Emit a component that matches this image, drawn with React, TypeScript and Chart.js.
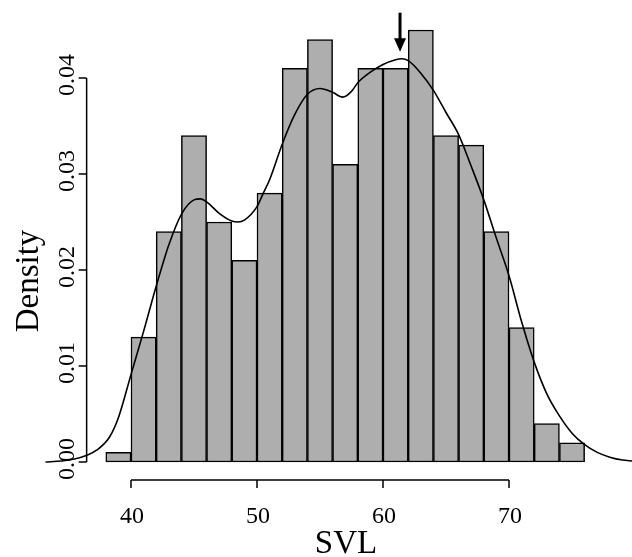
import React, { useEffect, useRef } from "react";
import { Chart, registerables } from "chart.js";

Chart.register(...registerables);

// Histogram bins (SVL, width 2) and densities
const binStarts = [38, 40, 42, 44, 46, 48, 50, 52, 54, 56, 58, 60, 62, 64, 66, 68, 70, 72, 74];
const binWidth = 2;
const densities = [
  0.001, 0.013, 0.024, 0.034, 0.025, 0.021, 0.028, 0.041, 0.044, 0.031,
  0.041, 0.041, 0.045, 0.034, 0.033, 0.024, 0.014, 0.004, 0.002,
];

// Kernel density curve
const curveX = [
  33.2, 34.5, 35.5, 36.5, 37.3, 38.3, 39, 40, 41, 42, 43, 44, 45, 45.5, 46, 47, 48, 48.5,
  49, 50, 50.5, 51, 52, 53, 54, 55, 56, 56.8, 57.5, 58, 59, 60, 61, 61.5, 62, 63, 64, 65,
  66, 67, 68, 69, 70, 71, 72, 73, 74, 75, 76, 77, 78, 79, 79.8,
];
const curveY = [
  0.0, 0.0001, 0.0003, 0.0007, 0.00125, 0.0026, 0.0046, 0.0091, 0.0136, 0.0183, 0.0226,
  0.0258, 0.0273, 0.0274, 0.0271, 0.0259, 0.0251, 0.025, 0.0252, 0.0266, 0.028, 0.0294,
  0.0331, 0.0362, 0.0383, 0.0389, 0.0385, 0.038, 0.0386, 0.0395, 0.0406, 0.0414, 0.0419,
  0.042, 0.0418, 0.0405, 0.0387, 0.0364, 0.0341, 0.0308, 0.0273, 0.0233, 0.0194, 0.0146,
  0.0104, 0.0071, 0.0048, 0.003, 0.0018, 0.001, 0.0005, 0.0002, 0.0001,
];

const xTicks = [40, 50, 60, 70];
const yTicks = [0, 0.01, 0.02, 0.03, 0.04];
const yTickLabels = ["0.00", "0.01", "0.02", "0.03", "0.04"];
const modeX = 61.35; // arrow marking the density peak
const xTitle = "SVL";
const yTitle = "Density";

const SERIF = '"Liberation Serif"';

const axesPlugin = {
  id: "rAxes",
  afterDraw(chart: any) {
    const ctx = chart.ctx as CanvasRenderingContext2D;
    const xs = chart.scales.x;
    const ys = chart.scales.y;
    ctx.save();
    ctx.strokeStyle = "#000";
    ctx.fillStyle = "#000";
    ctx.lineWidth = 1.5;

    // x axis
    const axisY = ys.getPixelForValue(-0.00188);
    const x0 = xs.getPixelForValue(xTicks[0]);
    const x1 = xs.getPixelForValue(xTicks[xTicks.length - 1]);
    ctx.beginPath();
    ctx.moveTo(x0, axisY);
    ctx.lineTo(x1, axisY);
    xTicks.forEach((t) => {
      const px = xs.getPixelForValue(t);
      ctx.moveTo(px, axisY);
      ctx.lineTo(px, axisY + 8);
    });
    ctx.stroke();
    ctx.font = `24px ${SERIF}`;
    ctx.textAlign = "center";
    ctx.textBaseline = "alphabetic";
    xTicks.forEach((t) => {
      ctx.fillText(String(t), xs.getPixelForValue(t) + 1, 523);
    });

    // y axis
    const axisX = xs.getPixelForValue(36.48);
    const y0 = ys.getPixelForValue(yTicks[0]);
    const y1 = ys.getPixelForValue(yTicks[yTicks.length - 1]);
    ctx.beginPath();
    ctx.moveTo(axisX, y0);
    ctx.lineTo(axisX, y1);
    yTicks.forEach((t) => {
      const py = ys.getPixelForValue(t);
      ctx.moveTo(axisX, py);
      ctx.lineTo(axisX - 8, py);
    });
    ctx.stroke();
    yTicks.forEach((t, i) => {
      const py = ys.getPixelForValue(t);
      ctx.save();
      ctx.translate(74, py - 3);
      ctx.rotate(-Math.PI / 2);
      ctx.textAlign = "center";
      ctx.fillText(yTickLabels[i], 0, 0);
      ctx.restore();
    });

    // y title
    ctx.font = `33px ${SERIF}`;
    ctx.textAlign = "center";
    ctx.save();
    ctx.translate(37.5, 281);
    ctx.rotate(-Math.PI / 2);
    ctx.fillText(yTitle, 0, 0);
    ctx.restore();

    // arrow at the mode
    const ax = xs.getPixelForValue(modeX);
    const yTop = ys.getPixelForValue(0.0468);
    const yHead = ys.getPixelForValue(0.04413);
    const yTip = ys.getPixelForValue(0.04274);
    ctx.lineWidth = 3;
    ctx.beginPath();
    ctx.moveTo(ax, yTop);
    ctx.lineTo(ax, yHead + 2);
    ctx.stroke();
    ctx.beginPath();
    ctx.moveTo(ax - 6, yHead);
    ctx.lineTo(ax + 6, yHead);
    ctx.lineTo(ax, yTip);
    ctx.closePath();
    ctx.fill();

    ctx.restore();
  },
};

export default function App() {
  const ref = useRef<HTMLCanvasElement | null>(null);

  useEffect(() => {
    if (!ref.current) return;
    const bars = binStarts.map((s, i) => ({ x: s + binWidth / 2, y: densities[i] }));
    const curve = curveX.map((x, i) => ({ x, y: curveY[i] }));
    const chart = new Chart(ref.current, {
      type: "bar",
      data: {
        datasets: [
          {
            type: "line",
            data: curve,
            borderColor: "#000",
            borderWidth: 1.6,
            pointRadius: 0,
            fill: false,
            cubicInterpolationMode: "monotone",
            order: 0,
          } as any,
          {
            type: "bar",
            data: bars,
            backgroundColor: "#AEAEAE",
            borderColor: "#000",
            borderWidth: 1.5,
            borderSkipped: false,
            barPercentage: 1,
            categoryPercentage: 1,
            order: 1,
          } as any,
        ],
      },
      options: {
        animation: false,
        responsive: false,
        maintainAspectRatio: false,
        layout: { padding: { left: 45.3, right: 0, top: 5, bottom: 76.8 } },
        scales: {
          x: { type: "linear", min: 33.2, max: 79.76, display: false, offset: false },
          y: { type: "linear", min: -0.0019, max: 0.0476, display: false },
        },
        plugins: {
          legend: { display: false },
          tooltip: { enabled: false },
        },
      },
      plugins: [axesPlugin],
    });
    let alive = true;
    const redraw = () => {
      if (alive) chart.draw();
    };
    const timers = [30, 120, 300].map((ms) => setTimeout(redraw, ms));
    return () => {
      alive = false;
      timers.forEach(clearTimeout);
      chart.destroy();
    };
  }, []);

  return (
    <div
      style={{
        position: "absolute",
        left: 0,
        top: 0,
        width: 632,
        height: 557,
        background: "#fff",
        fontFamily: SERIF,
      }}
    >
      <canvas ref={ref} width={632} height={557} style={{ width: 632, height: 557, display: "block" }} />
      <div
        style={{
          position: "absolute",
          left: 246,
          width: 200,
          top: 526.4,
          textAlign: "center",
          fontSize: 33,
          lineHeight: "33px",
          color: "#000",
          whiteSpace: "nowrap",
        }}
      >
        {xTitle}
      </div>
    </div>
  );
}
